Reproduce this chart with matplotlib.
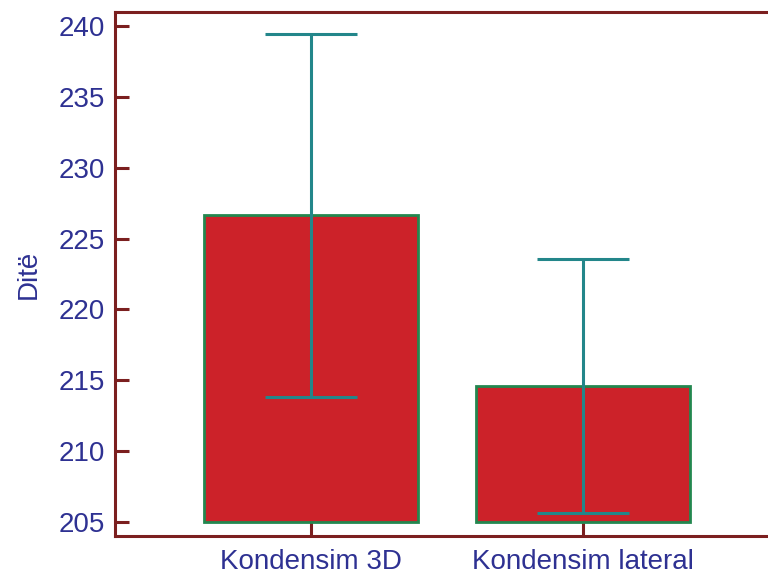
import matplotlib
matplotlib.use("Agg")
import matplotlib.pyplot as plt

# data
groups = ["Kondensim 3D", "Kondensim lateral"]
means = [226.65, 214.6]
errs = [12.8, 8.95]
base = 205

spine_col = "#7B1F1F"
text_col = "#2E3192"

plt.rcParams['font.family'] = ['Liberation Sans', 'DejaVu Sans']

fig = plt.figure(figsize=(7.68, 5.74), dpi=100)
ax = fig.add_axes([0.1497, 0.0662, 0.8503, 0.9129])

x = list(range(len(groups)))
heights = [m - base for m in means]
ax.bar(x, heights, bottom=base, width=0.787, color="#CC2229",
       edgecolor="#23874F", linewidth=2, zorder=2)
ax.errorbar(x, means, yerr=errs, fmt="none", ecolor="#23868A",
            elinewidth=2.2, capsize=33, capthick=2.2, zorder=3)

ax.set_xlim(-0.72, 1.68)
ax.set_ylim(204, 241)
ax.set_yticks(range(205, 241, 5))
ax.set_xticks(x)
ax.set_xticklabels(groups)

for s in ["left", "bottom", "top"]:
    ax.spines[s].set_color(spine_col)
    ax.spines[s].set_linewidth(2.2)
ax.spines["right"].set_visible(False)

ax.tick_params(axis="both", direction="in", length=10, width=2.2,
               color=spine_col, labelcolor=text_col, labelsize=20)
ax.tick_params(axis="y", pad=7, right=False)
ax.tick_params(axis="x", pad=9, top=False)

ax.set_ylabel("Ditë", color=text_col, fontsize=20, labelpad=12)

fig.savefig("out.png", dpi=100)
